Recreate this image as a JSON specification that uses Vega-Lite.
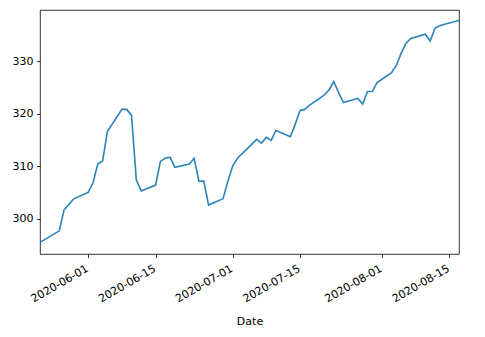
{
  "$schema": "https://vega.github.io/schema/vega-lite/v6.json",
  "autosize": {"type": "none"},
  "padding": {"left": 40, "top": 10, "right": 26, "bottom": 83},
  "width": 419,
  "height": 244,
  "background": "white",
  "config": {
    "view": {"stroke": "#000000", "strokeWidth": 0.8},
    "axis": {
      "grid": false,
      "domain": false,
      "tickColor": "#000000",
      "tickWidth": 0.8,
      "tickSize": 3.5,
      "labelPadding": 3.5,
      "labelFont": "DejaVu Sans",
      "labelFontSize": 11,
      "labelColor": "#000000",
      "titleFont": "DejaVu Sans",
      "titleFontSize": 11,
      "titleFontWeight": "normal",
      "titleColor": "#000000"
    }
  },
  "data": {
    "values": [
      {"Date": "2020-05-22", "Value": 295.5},
      {"Date": "2020-05-26", "Value": 297.7},
      {"Date": "2020-05-27", "Value": 301.7},
      {"Date": "2020-05-28", "Value": 302.7},
      {"Date": "2020-05-29", "Value": 303.8},
      {"Date": "2020-06-01", "Value": 305.0},
      {"Date": "2020-06-02", "Value": 306.8},
      {"Date": "2020-06-03", "Value": 310.4},
      {"Date": "2020-06-04", "Value": 311.0},
      {"Date": "2020-06-05", "Value": 316.6},
      {"Date": "2020-06-08", "Value": 320.8},
      {"Date": "2020-06-09", "Value": 320.8},
      {"Date": "2020-06-10", "Value": 319.7},
      {"Date": "2020-06-11", "Value": 307.4},
      {"Date": "2020-06-12", "Value": 305.3},
      {"Date": "2020-06-15", "Value": 306.4},
      {"Date": "2020-06-16", "Value": 310.9},
      {"Date": "2020-06-17", "Value": 311.5},
      {"Date": "2020-06-18", "Value": 311.7},
      {"Date": "2020-06-19", "Value": 309.8},
      {"Date": "2020-06-22", "Value": 310.4},
      {"Date": "2020-06-23", "Value": 311.5},
      {"Date": "2020-06-24", "Value": 307.1},
      {"Date": "2020-06-25", "Value": 307.2},
      {"Date": "2020-06-26", "Value": 302.6},
      {"Date": "2020-06-29", "Value": 303.8},
      {"Date": "2020-06-30", "Value": 307.1},
      {"Date": "2020-07-01", "Value": 310.0},
      {"Date": "2020-07-02", "Value": 311.5},
      {"Date": "2020-07-06", "Value": 315.1},
      {"Date": "2020-07-07", "Value": 314.4},
      {"Date": "2020-07-08", "Value": 315.5},
      {"Date": "2020-07-09", "Value": 314.9},
      {"Date": "2020-07-10", "Value": 316.8},
      {"Date": "2020-07-13", "Value": 315.6},
      {"Date": "2020-07-14", "Value": 318.0},
      {"Date": "2020-07-15", "Value": 320.6},
      {"Date": "2020-07-16", "Value": 320.8},
      {"Date": "2020-07-17", "Value": 321.6},
      {"Date": "2020-07-20", "Value": 323.5},
      {"Date": "2020-07-21", "Value": 324.5},
      {"Date": "2020-07-22", "Value": 326.1},
      {"Date": "2020-07-23", "Value": 324.0},
      {"Date": "2020-07-24", "Value": 322.1},
      {"Date": "2020-07-27", "Value": 322.9},
      {"Date": "2020-07-28", "Value": 321.8},
      {"Date": "2020-07-29", "Value": 324.2},
      {"Date": "2020-07-30", "Value": 324.2},
      {"Date": "2020-07-31", "Value": 325.9},
      {"Date": "2020-08-03", "Value": 327.8},
      {"Date": "2020-08-04", "Value": 329.2},
      {"Date": "2020-08-05", "Value": 331.5},
      {"Date": "2020-08-06", "Value": 333.4},
      {"Date": "2020-08-07", "Value": 334.3},
      {"Date": "2020-08-10", "Value": 335.1},
      {"Date": "2020-08-11", "Value": 333.8},
      {"Date": "2020-08-12", "Value": 336.2},
      {"Date": "2020-08-13", "Value": 336.7},
      {"Date": "2020-08-14", "Value": 337.0},
      {"Date": "2020-08-17", "Value": 337.7}
    ]
  },
  "mark": {"type": "line", "color": "#2b83ba", "strokeWidth": 1.6, "clip": true},
  "encoding": {
    "x": {
      "field": "Date",
      "type": "temporal",
      "timeUnit": "utcyearmonthdate",
      "scale": {"nice": false},
      "axis": {
        "title": "Date",
        "format": "%Y-%m-%d",
        "values": [
          {"year": 2020, "month": 6, "date": 1, "utc": true},
          {"year": 2020, "month": 6, "date": 15, "utc": true},
          {"year": 2020, "month": 7, "date": 1, "utc": true},
          {"year": 2020, "month": 7, "date": 15, "utc": true},
          {"year": 2020, "month": 8, "date": 1, "utc": true},
          {"year": 2020, "month": 8, "date": 15, "utc": true}
        ],
        "labelAngle": -30,
        "labelAlign": "right",
        "labelBaseline": "top",
        "labelOffset": -4,
        "labelPadding": 5,
        "titlePadding": 12
      }
    },
    "y": {
      "field": "Value",
      "type": "quantitative",
      "scale": {"domain": [293.3, 339.7], "nice": false, "zero": false},
      "axis": {"title": null, "values": [300, 310, 320, 330]}
    }
  }
}
